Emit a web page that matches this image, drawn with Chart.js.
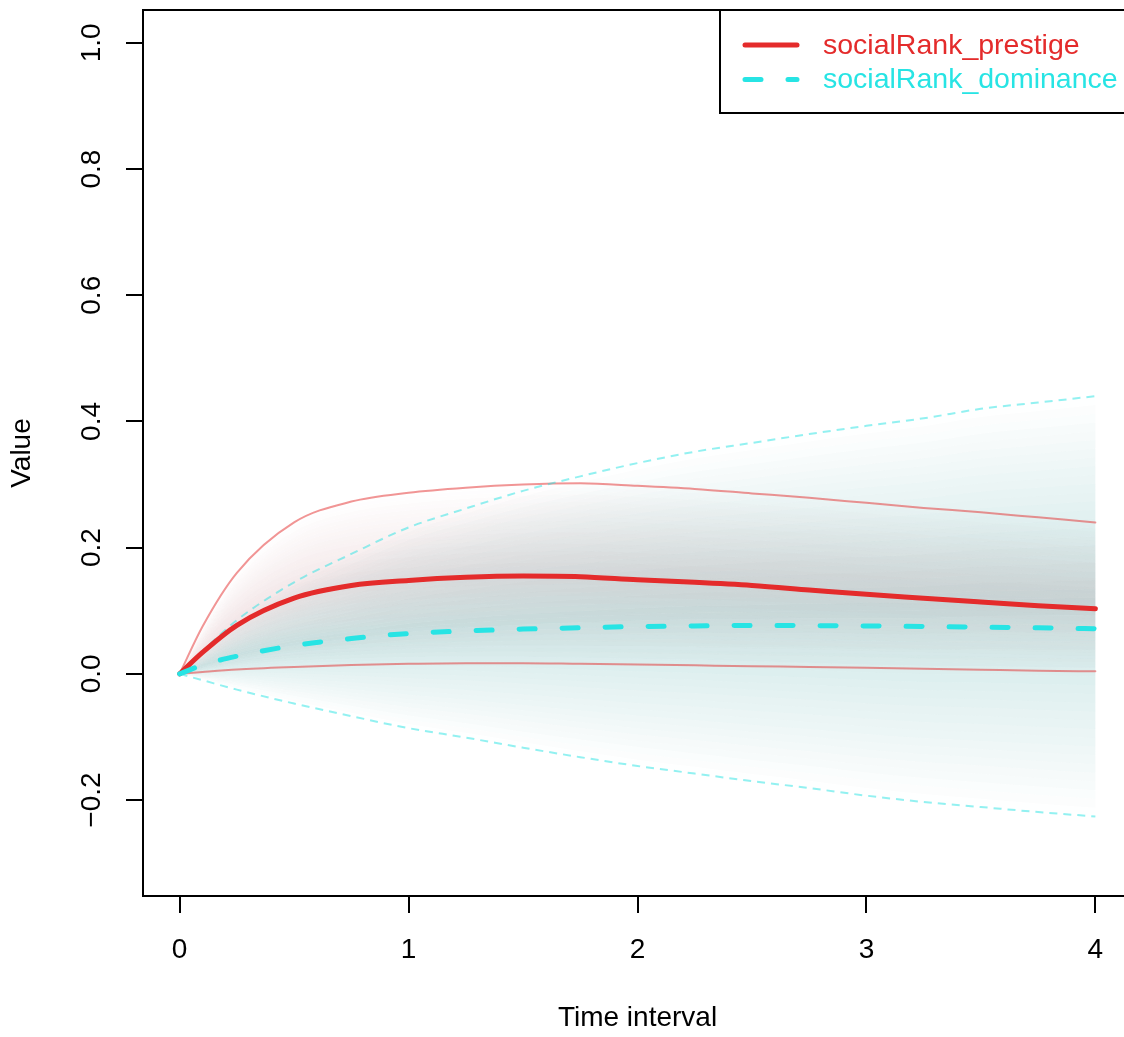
<!DOCTYPE html>
<html>
<head>
<meta charset="utf-8">
<script src="https://cdn.jsdelivr.net/npm/chart.js@4.4.0/dist/chart.umd.min.js"></script>
<style>
  html, body { margin: 0; padding: 0; background: #fff; overflow: hidden; }
  canvas { display: block; }
</style>
</head>
<body>
<canvas id="chart" width="1140" height="1037"></canvas>
<script>
// values
const timePoints = [0, 0.1, 0.25, 0.5, 0.75, 1, 1.25, 1.5, 1.75, 2, 2.25, 2.5, 2.75, 3, 3.25, 3.5, 3.75, 4];

const prestigeMean  = [0, 0.034, 0.077, 0.120, 0.140, 0.148, 0.153, 0.155, 0.154, 0.149, 0.145, 0.140, 0.133, 0.126, 0.120, 0.114, 0.108, 0.103];
const prestigeUpper = [0, 0.075, 0.160, 0.240, 0.273, 0.287, 0.295, 0.300, 0.302, 0.298, 0.293, 0.286, 0.279, 0.271, 0.263, 0.256, 0.248, 0.240];
const prestigeLower = [0, 0.003, 0.007, 0.011, 0.014, 0.016, 0.017, 0.017, 0.016, 0.015, 0.0135, 0.012, 0.011, 0.0095, 0.008, 0.0065, 0.005, 0.004];

const dominanceMean  = [0, 0.014, 0.028, 0.045, 0.056, 0.064, 0.068, 0.071, 0.073, 0.075, 0.076, 0.0766, 0.0765, 0.076, 0.075, 0.074, 0.073, 0.0715];
const dominanceUpper = [0, 0.036, 0.085, 0.145, 0.190, 0.232, 0.262, 0.290, 0.313, 0.334, 0.352, 0.366, 0.380, 0.393, 0.405, 0.420, 0.430, 0.440];
const dominanceLower = [0, -0.010, -0.025, -0.047, -0.067, -0.086, -0.101, -0.117, -0.132, -0.146, -0.158, -0.170, -0.181, -0.193, -0.203, -0.211, -0.219, -0.226];

const seriesLabels = ['socialRank_prestige', 'socialRank_dominance'];
const xTicks = [0, 1, 2, 3, 4];
const yTicks = [-0.2, 0, 0.2, 0.4, 0.6, 0.8, 1.0];

const RED = '#E42B2B';
const CYAN = '#27E4E4';
const FONT = '"Liberation Sans", Arial, Helvetica, sans-serif';
const FS = 28;

function pts(vals) {
    return timePoints.map((t, i) => ({x: t, y: vals[i]}));
}

const base = {
    pointRadius: 0,
    fill: false,
    cubicInterpolationMode: 'monotone',
    borderCapStyle: 'round',
    borderJoinStyle: 'round'
};

// dataset 0 is drawn on top
const datasets = [
    {...base, label: seriesLabels[1], data: pts(dominanceMean), borderColor: CYAN, borderWidth: 5, borderDash: [16, 27]},
    {...base, label: seriesLabels[0], data: pts(prestigeMean), borderColor: RED, borderWidth: 5},
    {...base, data: pts(dominanceUpper), borderColor: 'rgba(39,228,228,0.5)', borderWidth: 2, borderDash: [8, 6], borderCapStyle: 'butt'},
    {...base, data: pts(dominanceLower), borderColor: 'rgba(39,228,228,0.5)', borderWidth: 2, borderDash: [8, 6], borderCapStyle: 'butt'},
    {...base, data: pts(prestigeUpper), borderColor: 'rgba(228,43,43,0.5)', borderWidth: 2},
    {...base, data: pts(prestigeLower), borderColor: 'rgba(228,43,43,0.5)', borderWidth: 2}
];

// shaded bands, darkest half way between the bounds
const bands = [
    {upper: 2, lower: 3, rgb: '40,150,150', maxA: 0.24},
    {upper: 4, lower: 5, rgb: '160,60,70', maxA: 0.13}
];

const bandShade = {
    id: 'bandShade',
    beforeDatasetsDraw(chart) {
        const ctx = chart.ctx, area = chart.chartArea;
        ctx.save();
        ctx.beginPath();
        ctx.rect(area.left, area.top, area.right - area.left, area.bottom - area.top);
        ctx.clip();
        bands.forEach(b => {
            const up = chart.getDatasetMeta(b.upper), lo = chart.getDatasetMeta(b.lower);
            up.dataset.updateControlPoints(area, 'x');
            lo.dataset.updateControlPoints(area, 'x');
            const U = up.data, L = lo.data, n = U.length;
            const mix = (u, l, s) => (u + l) / 2 + s * (u - l) / 2;
            const get = (i, s) => {
                const p = {};
                ['x', 'y', 'cp1x', 'cp1y', 'cp2x', 'cp2y'].forEach(k => {
                    p[k] = (U[i][k] === undefined) ? undefined : mix(U[i][k], L[i][k], s);
                });
                return p;
            };
            const N = 24;
            for (let j = 0; j < N; j++) {
                const a = b.maxA * (1 - (j + 0.5) / N);
                ctx.fillStyle = 'rgba(' + b.rgb + ',' + a + ')';
                [1, -1].forEach(sign => {
                    const sa = sign * j / N, sb = sign * (j + 1) / N;
                    ctx.beginPath();
                    let p = get(0, sa);
                    ctx.moveTo(p.x, p.y);
                    for (let i = 1; i < n; i++) {
                        const prev = get(i - 1, sa), cur = get(i, sa);
                        ctx.bezierCurveTo(prev.cp2x, prev.cp2y, cur.cp1x, cur.cp1y, cur.x, cur.y);
                    }
                    p = get(n - 1, sb);
                    ctx.lineTo(p.x, p.y);
                    for (let i = n - 2; i >= 0; i--) {
                        const prev = get(i + 1, sb), cur = get(i, sb);
                        ctx.bezierCurveTo(prev.cp1x, prev.cp1y, cur.cp2x, cur.cp2y, cur.x, cur.y);
                    }
                    ctx.closePath();
                    ctx.fill();
                });
            }
        });
        ctx.restore();
    }
};

const frameAndLegend = {
    id: 'frameAndLegend',
    afterDraw(chart) {
        const ctx = chart.ctx, area = chart.chartArea;
        const ys = chart.scales.y;
        ctx.save();

        // y tick labels, rotated like base R
        ctx.fillStyle = '#000';
        ctx.font = FS + 'px ' + FONT;
        ctx.textAlign = 'center';
        ctx.textBaseline = 'middle';
        yTicks.forEach(v => {
            const y = ys.getPixelForValue(v);
            ctx.save();
            ctx.translate(92, y);
            ctx.rotate(-Math.PI / 2);
            ctx.fillText(v.toFixed(1).replace('-', '\u2212'), 0, 0);
            ctx.restore();
        });

        // plot box
        ctx.strokeStyle = '#000';
        ctx.lineWidth = 2;
        ctx.strokeRect(area.left, area.top, area.right - area.left, area.bottom - area.top);

        // legend
        const lx = 720, ly = area.top, lh = 103;
        ctx.fillStyle = '#fff';
        ctx.fillRect(lx, ly, area.right - lx, lh);
        ctx.strokeRect(lx, ly, area.right - lx, lh);

        ctx.font = '28.5px ' + FONT;
        const rows = [
            {label: seriesLabels[0], color: RED, dash: [], y: ly + 35},
            {label: seriesLabels[1], color: CYAN, dash: [16, 27], y: ly + 69.5}
        ];
        rows.forEach(r => {
            ctx.strokeStyle = r.color;
            ctx.lineWidth = 5;
            ctx.lineCap = 'round';
            ctx.setLineDash(r.dash);
            ctx.beginPath();
            ctx.moveTo(745, r.y);
            ctx.lineTo(797, r.y);
            ctx.stroke();
            ctx.setLineDash([]);
            ctx.fillStyle = r.color;
            ctx.textAlign = 'left';
            ctx.textBaseline = 'middle';
            ctx.fillText(r.label, 823, r.y + 1);
        });
        ctx.restore();
    }
};

new Chart(document.getElementById('chart'), {
    type: 'line',
    data: {datasets: datasets},
    options: {
        responsive: false,
        animation: false,
        layout: {padding: {top: 10, right: 8, left: 0, bottom: 0}},
        scales: {
            x: {
                type: 'linear',
                min: -0.16,
                max: 4.16,
                afterBuildTicks: s => { s.ticks = xTicks.map(v => ({value: v})); },
                afterFit: s => { s.height = 141; },
                grid: {display: true, drawOnChartArea: false, drawTicks: true, tickLength: 17, color: '#000', lineWidth: 2},
                border: {display: false},
                ticks: {color: '#000', font: {family: FONT, size: FS}, padding: 20, maxRotation: 0},
                title: {display: true, text: 'Time interval', color: '#000', font: {family: FONT, size: FS}, padding: {top: 0, bottom: 2}}
            },
            y: {
                type: 'linear',
                min: -0.352,
                max: 1.052,
                afterBuildTicks: s => { s.ticks = yTicks.map(v => ({value: v})); },
                afterFit: s => { s.width = 143; },
                grid: {display: true, drawOnChartArea: false, drawTicks: true, tickLength: 17, color: '#000', lineWidth: 2},
                border: {display: false},
                ticks: {display: false},
                title: {display: true, text: 'Value', color: '#000', font: {family: FONT, size: FS}, padding: {top: 5, bottom: 0}}
            }
        },
        plugins: {
            legend: {display: false},
            tooltip: {enabled: false}
        }
    },
    plugins: [bandShade, frameAndLegend]
});
</script>
</body>
</html>
